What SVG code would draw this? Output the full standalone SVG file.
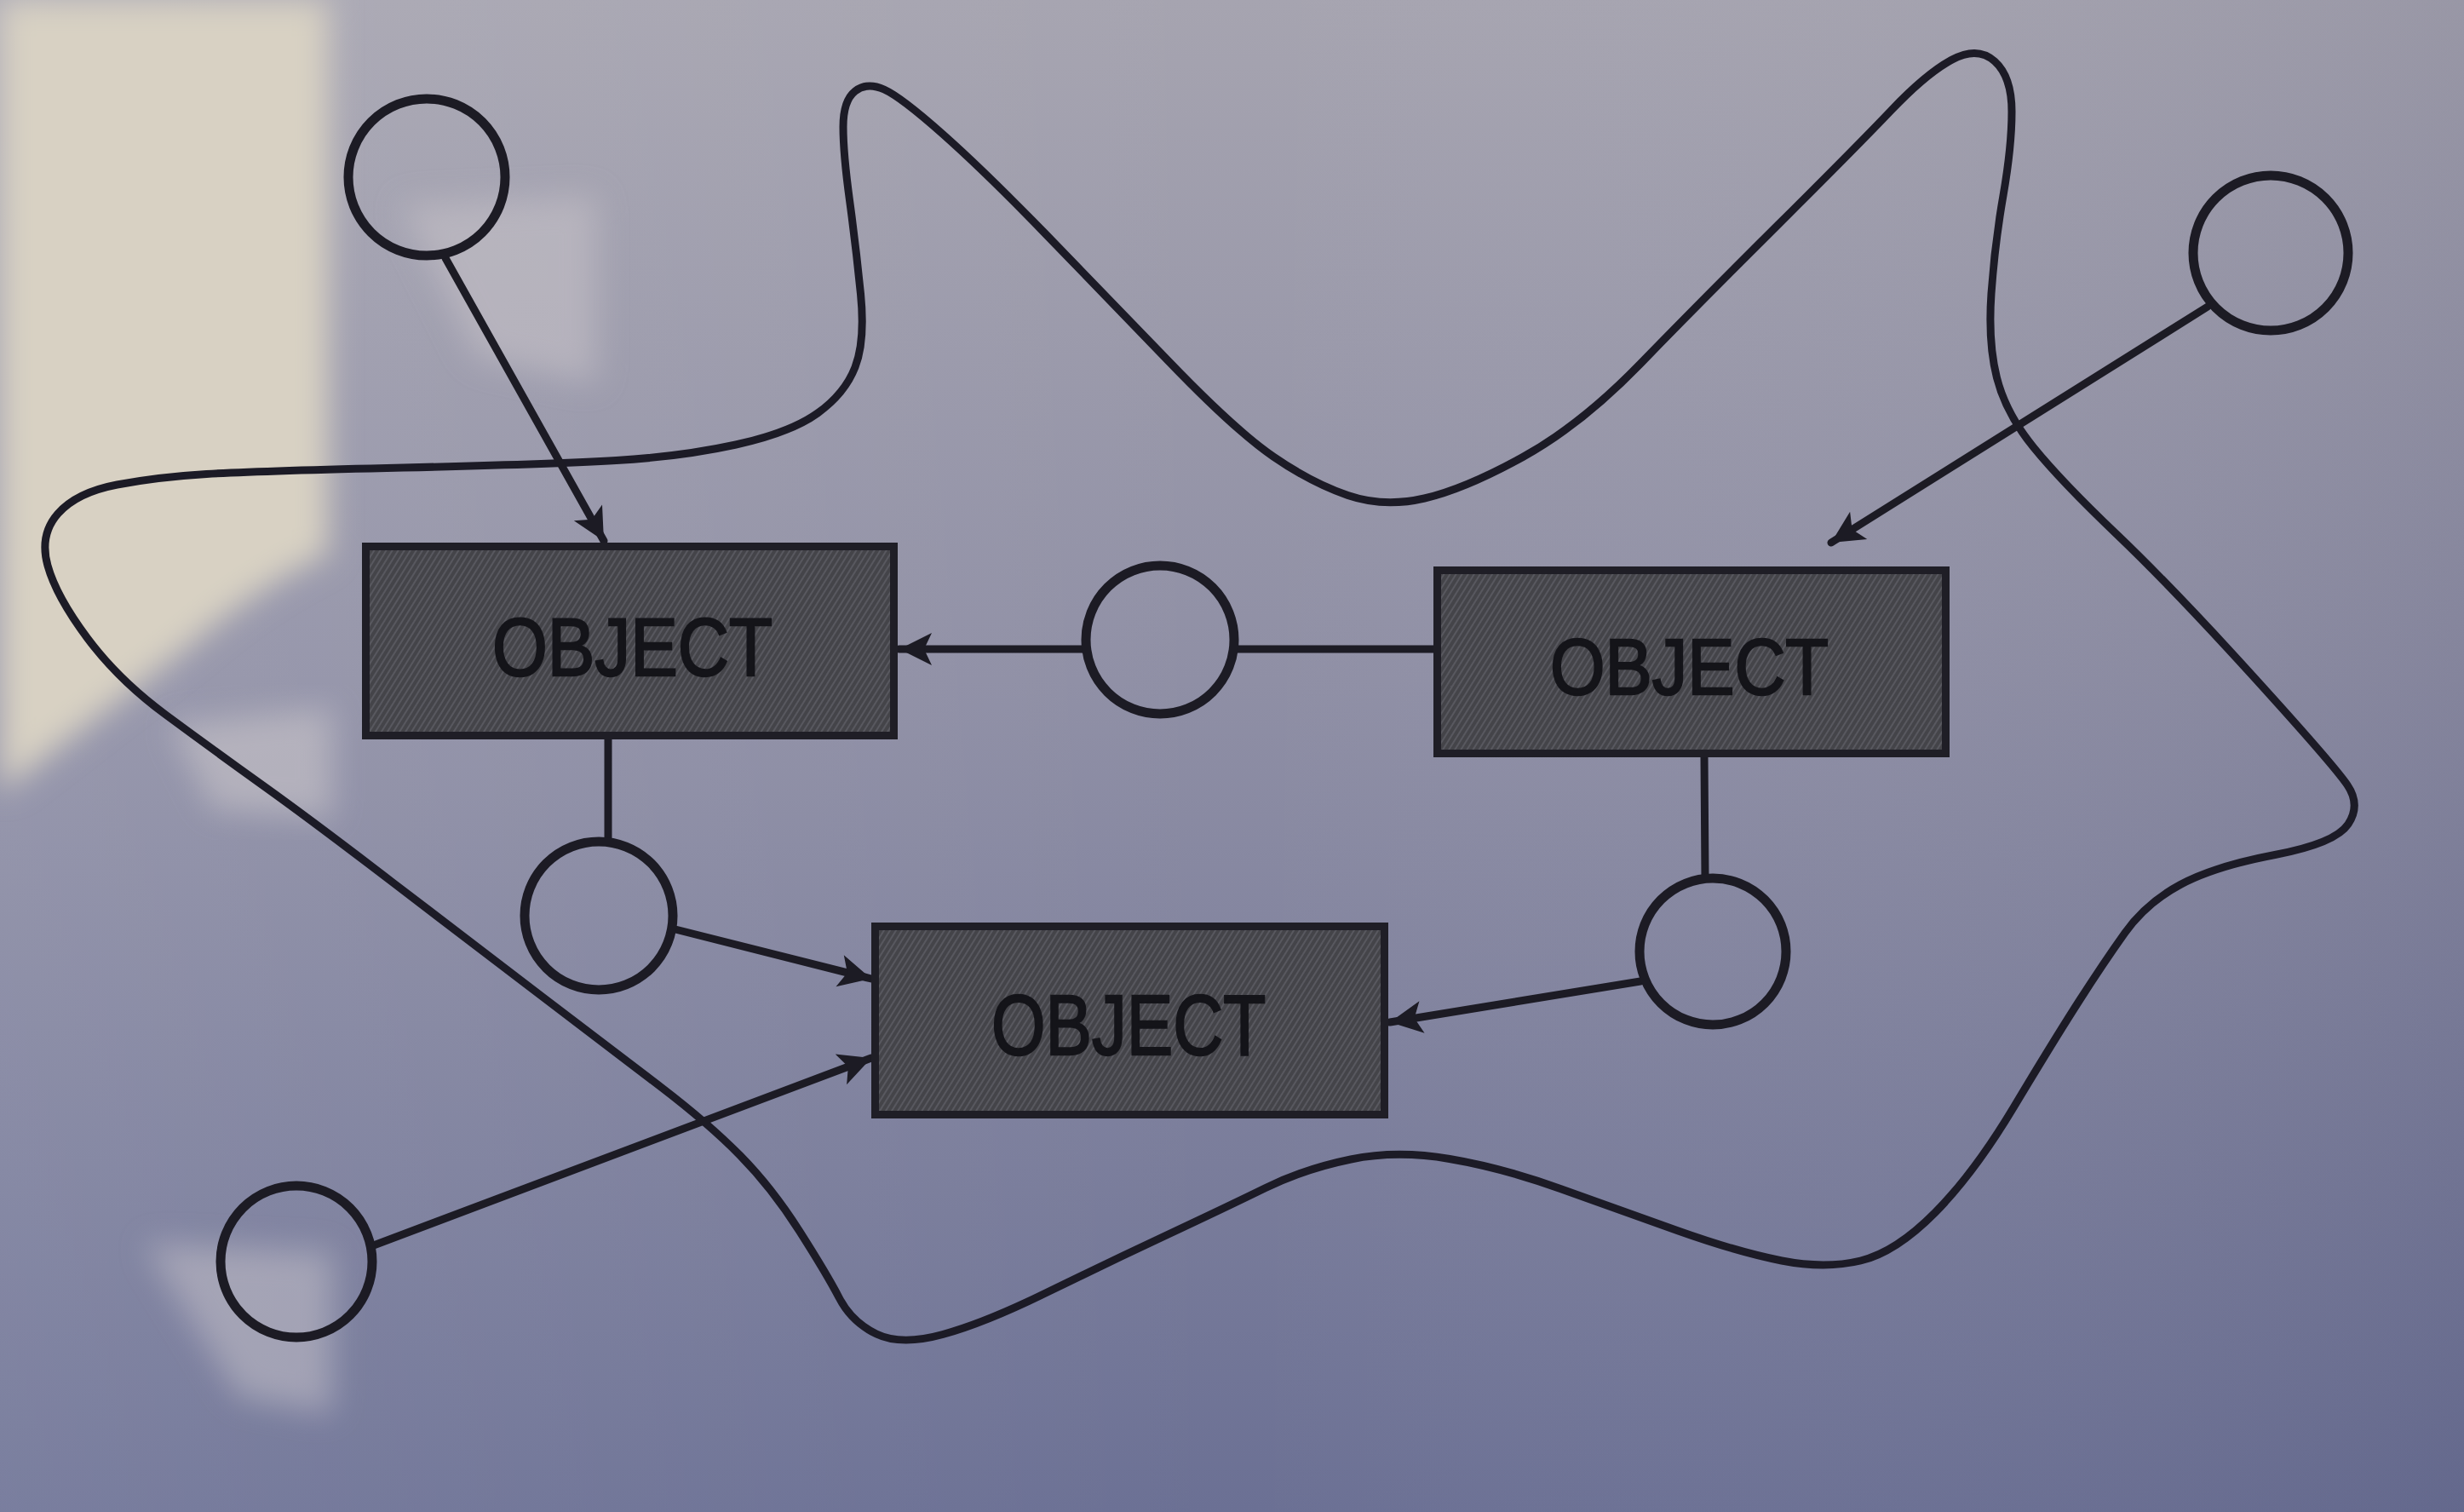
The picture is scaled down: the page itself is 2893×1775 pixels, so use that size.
<svg xmlns="http://www.w3.org/2000/svg" width="2893" height="1775" viewBox="0 0 2893 1775">
  <style>
    .ln { fill: none; stroke: #1c1b24; stroke-width: 9; stroke-linecap: round; stroke-linejoin: round; }
    .circ { fill: none; stroke: #1c1b24; stroke-width: 11; }
    .obj { fill: url(#hatch); stroke: #1f1e26; stroke-width: 9; }
    .lbl { font-family: "Liberation Sans Narrow", "Liberation Sans", Arial, sans-serif; fill: #141419; stroke: #141419; stroke-width: 2.5; }
    .blob { fill: none; stroke: #1c1b26; stroke-width: 9; stroke-linejoin: round; }
  </style>
  <defs>
    <linearGradient id="bgV" x1="0" y1="0" x2="0" y2="1">
      <stop offset="0" stop-color="#a6a4b0"/>
      <stop offset="0.45" stop-color="#8f8fa5"/>
      <stop offset="1" stop-color="#6b7094"/>
    </linearGradient>
    <linearGradient id="bgH" x1="0" y1="0" x2="1" y2="0">
      <stop offset="0" stop-color="#ffffff" stop-opacity="0.10"/>
      <stop offset="0.5" stop-color="#ffffff" stop-opacity="0"/>
      <stop offset="1" stop-color="#20224a" stop-opacity="0.10"/>
    </linearGradient>
    <filter id="blur" x="-20%" y="-20%" width="140%" height="140%">
      <feGaussianBlur stdDeviation="18"/>
    </filter>
    <pattern id="hatch" width="6" height="6" patternUnits="userSpaceOnUse" patternTransform="rotate(32)">
      <rect width="6" height="6" fill="#444449"/>
      <rect width="2" height="6" fill="#58585f"/>
    </pattern>
    <marker id="arr" markerUnits="userSpaceOnUse" markerWidth="50" markerHeight="50" viewBox="-44 -25 50 50" refX="0" refY="0" orient="auto">
      <path d="M0,0 L-38,-19 L-29,0 L-38,19 Z" fill="#1c1b24"/>
    </marker>
  </defs>

  <!-- photographed page background -->
  <rect width="2893" height="1775" fill="url(#bgV)"/>
  <rect width="2893" height="1775" fill="url(#bgH)"/>
  <path d="M0,0 H385 V650 Q300,690 220,760 L0,930 Z" fill="#d8d1c3" filter="url(#blur)"/>
  <path d="M470,240 L700,230 L700,450 L560,420 Z" fill="#c4c0c6" opacity="0.6" filter="url(#blur)"/>
  <path d="M200,850 L390,830 L390,960 L250,950 Z" fill="#c9c5c9" opacity="0.6" filter="url(#blur)"/>
  <path d="M170,1460 L390,1470 L390,1660 L280,1640 Z" fill="#c9c5cb" opacity="0.5" filter="url(#blur)"/>

  <!-- boundary curve -->
  <g id="boundary">
    <path class="blob" d="M1004,107 Q1018,96 1038,105 Q1058,114 1107,157.5 Q1156,201 1225.5,272.5 Q1295,344 1372.5,424.5 Q1450,505 1495,536 Q1540,567 1582.5,581.5 Q1625,596 1672.5,585 Q1720,574 1788,536.5 Q1856,499 1925.5,427.5 Q1995,356 2087.5,264 Q2180,172 2221,129 Q2262,86 2292,70 Q2322,54 2342,72 Q2362,90 2362,131 Q2362,172 2352,229.5 Q2342,287 2338,344.5 Q2334,402 2344.5,443.5 Q2355,485 2387.5,525 Q2420,565 2485,627 Q2550,689 2645,793.5 Q2740,898 2756,921.5 Q2772,945 2757,967.5 Q2742,990 2671,1003.5 Q2600,1017 2560,1038.5 Q2520,1060 2495,1095 Q2470,1130 2440.5,1176 Q2411,1222 2364.5,1299.5 Q2318,1377 2272,1423.5 Q2226,1470 2184.5,1480 Q2143,1490 2092,1480 Q2041,1470 1970.5,1445 Q1900,1420 1832,1395.5 Q1764,1371 1702,1360.5 Q1640,1350 1586,1361 Q1532,1372 1486,1394.5 Q1440,1417 1367.5,1451 Q1295,1485 1225.5,1519 Q1156,1553 1107,1566.5 Q1058,1580 1029,1566 Q1000,1552 985.5,1524 Q971,1496 938.5,1445 Q906,1394 869,1356.5 Q832,1319 776.5,1276.5 Q721,1234 638,1171 Q555,1108 462.5,1037 Q370,966 310,923 Q250,880 194.5,839 Q139,798 102.5,749 Q66,700 56,664 Q46,628 68,603 Q90,578 137.5,569 Q185,560 242.5,556.5 Q300,553 473.5,549 Q647,545 723.5,540.5 Q800,536 864,522 Q928,508 960,485 Q992,462 1004,431 Q1016,400 1010.5,345 Q1005,290 997.5,235 Q990,180 990,149 Q990,118 1004,107 Z"/>
  </g>

  <!-- connectors -->
  <g id="connectors">
    <path class="ln" d="M523,303 L709,635" marker-end="url(#arr)"/>
    <path class="ln" d="M2592,360 L2150,637" marker-end="url(#arr)"/>
    <path class="ln" d="M1275,762 L1056,762" marker-end="url(#arr)"/>
    <path class="ln" d="M1449,762 L1686,762"/>
    <path class="ln" d="M714,867 L714,988"/>
    <path class="ln" d="M789,1090 L1023,1149" marker-end="url(#arr)"/>
    <path class="ln" d="M436,1463 L1023,1242" marker-end="url(#arr)"/>
    <path class="ln" d="M2001,888 L2002,1031"/>
    <path class="ln" d="M1926,1152 L1632,1200" marker-end="url(#arr)"/>
  </g>

  <!-- objects -->
  <g id="object-left">
    <rect class="obj" x="429.5" y="641.5" width="620" height="222"/>
    <text class="lbl" x="578" y="793" font-size="97" textLength="329" lengthAdjust="spacingAndGlyphs">OBJECT</text>
  </g>
  <g id="object-right">
    <rect class="obj" x="1687.5" y="669.5" width="597" height="215"/>
    <text class="lbl" x="1820" y="815" font-size="93" textLength="327" lengthAdjust="spacingAndGlyphs">OBJECT</text>
  </g>
  <g id="object-bottom">
    <rect class="obj" x="1027.5" y="1087.5" width="598" height="221"/>
    <text class="lbl" x="1164" y="1238" font-size="101" textLength="322" lengthAdjust="spacingAndGlyphs">OBJECT</text>
  </g>

  <!-- circles -->
  <g id="circle-top-left"><circle class="circ" cx="501" cy="208" r="92"/></g>
  <g id="circle-top-right"><circle class="circ" cx="2666" cy="297" r="91"/></g>
  <g id="circle-middle"><circle class="circ" cx="1362" cy="751" r="87"/></g>
  <g id="circle-left-lower"><circle class="circ" cx="703" cy="1075" r="87"/></g>
  <g id="circle-right-lower"><circle class="circ" cx="2011" cy="1117" r="86"/></g>
  <g id="circle-bottom-left"><circle class="circ" cx="348" cy="1481" r="89"/></g>
</svg>
